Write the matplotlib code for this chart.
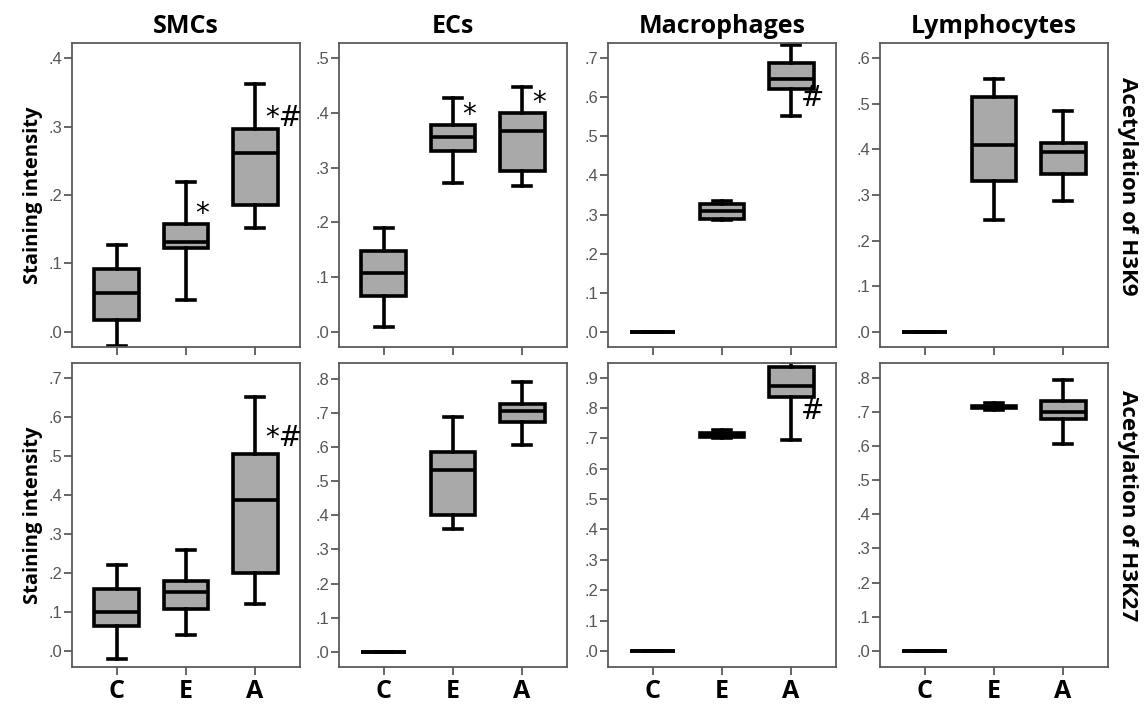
import numpy as np
import matplotlib
matplotlib.use("Agg")
import matplotlib.pyplot as plt
from matplotlib.ticker import FuncFormatter, MultipleLocator

cells = ["SMCs", "ECs", "Macrophages", "Lymphocytes"]
groups = ["C", "E", "A"]
rows = ["Acetylation of H3K9", "Acetylation of H3K27"]

# five-number summaries per group: low whisker, q1, median, q3, high whisker
h3k9_smc = [[-0.02, 0.018, 0.057, 0.092, 0.127],
            [0.047, 0.122, 0.132, 0.157, 0.219],
            [0.152, 0.185, 0.261, 0.296, 0.362]]
h3k9_ec = [[0.010, 0.066, 0.108, 0.148, 0.190],
           [0.272, 0.330, 0.355, 0.378, 0.427],
           [0.267, 0.293, 0.367, 0.400, 0.447]]
h3k9_mac = [[0.0, 0.0, 0.0, 0.0, 0.0],
            [0.285, 0.290, 0.310, 0.327, 0.335],
            [0.552, 0.620, 0.645, 0.686, 0.732]]
h3k9_lym = [[0.0, 0.0, 0.0, 0.0, 0.0],
            [0.245, 0.330, 0.410, 0.515, 0.555],
            [0.287, 0.347, 0.395, 0.415, 0.485]]

h3k27_smc = [[-0.02, 0.063, 0.100, 0.160, 0.220],
             [0.040, 0.108, 0.152, 0.180, 0.260],
             [0.120, 0.200, 0.388, 0.506, 0.650]]
h3k27_ec = [[0.0, 0.0, 0.0, 0.0, 0.0],
            [0.360, 0.400, 0.533, 0.587, 0.690],
            [0.605, 0.675, 0.705, 0.727, 0.790]]
h3k27_mac = [[0.0, 0.0, 0.0, 0.0, 0.0],
             [0.700, 0.703, 0.710, 0.718, 0.728],
             [0.695, 0.835, 0.873, 0.935, 0.950]]
h3k27_lym = [[0.0, 0.0, 0.0, 0.0, 0.0],
             [0.705, 0.712, 0.715, 0.718, 0.725],
             [0.607, 0.678, 0.700, 0.733, 0.792]]

data = [[h3k9_smc, h3k9_ec, h3k9_mac, h3k9_lym],
        [h3k27_smc, h3k27_ec, h3k27_mac, h3k27_lym]]

ylims = [[(-0.022, 0.422), (-0.027, 0.527), (-0.038, 0.738), (-0.033, 0.633)],
         [(-0.041, 0.738), (-0.045, 0.847), (-0.053, 0.948), (-0.047, 0.843)]]

# significance marks: (row, col, group index, text, y value)
marks = [(0, 0, 1, "*", 0.172), (0, 0, 2, "*#", 0.313),
         (0, 1, 1, "*", 0.395), (0, 1, 2, "*", 0.418),
         (0, 2, 2, "#", 0.598),
         (1, 0, 2, "*#", 0.545),
         (1, 2, 2, "#", 0.79)]

W, H = 1148, 704
fig = plt.figure(figsize=(W / 100, H / 100), dpi=100)

lefts = [72, 339, 608, 880]
tops = [43, 363]
pw, ph = 228, 304

fmt = FuncFormatter(lambda v, p: ("%.1f" % v).replace("0.", ".", 1) if v >= 0 else "")
gray = "#5a5a5a"
lw = 2.6

for r in range(2):
    for c in range(4):
        ax = fig.add_axes([lefts[c] / W, 1 - (tops[r] + ph) / H, pw / W, ph / H])
        stats = []
        for g, s in zip(groups, data[r][c]):
            stats.append({"label": g, "whislo": s[0], "q1": s[1], "med": s[2],
                          "q3": s[3], "whishi": s[4]})
        ax.bxp(stats, positions=[1, 2, 3], widths=0.65, capwidths=0.27,
               showfliers=False, patch_artist=True,
               boxprops=dict(facecolor="#a9a9a9", edgecolor="black", linewidth=lw),
               medianprops=dict(color="black", linewidth=lw),
               whiskerprops=dict(color="black", linewidth=lw),
               capprops=dict(color="black", linewidth=lw))
        ax.set_xlim(0.35, 3.65)
        ax.set_ylim(*ylims[r][c])
        ax.yaxis.set_major_locator(MultipleLocator(0.1))
        ax.yaxis.set_major_formatter(fmt)
        for sp in ax.spines.values():
            sp.set_color(gray)
            sp.set_linewidth(1.3)
        ax.tick_params(axis="both", direction="out", color=gray, length=6, width=1.3)
        ax.tick_params(axis="y", labelsize=12, labelcolor="#555555", pad=1)
        for lab in ax.get_yticklabels():
            lab.set_family("Liberation Sans")
        ax.set_xticks([1, 2, 3])
        if r == 1:
            ax.set_xticklabels(groups, fontsize=18, fontweight="bold",
                               family="Open Sans")
            ax.tick_params(axis="x", pad=3)
        else:
            ax.set_xticklabels([])
            ax.set_title(cells[c], fontsize=18, fontweight="bold",
                         family="Open Sans", pad=7)
        if c == 0:
            ax.set_ylabel("Staining intensity", fontsize=14.5, fontweight="bold",
                          family="Open Sans", labelpad=4)
        if c == 3:
            ax.text(1.04, 0.53, rows[r], transform=ax.transAxes, rotation=-90,
                    va="center", ha="left", fontsize=16, fontweight="bold",
                    family="Open Sans")

for r, c, gi, txt, yv in marks:
    ax = fig.axes[r * 4 + c]
    ax.text(gi + 1 + 0.14, yv, txt, fontsize=20, ha="left", va="center",
            family="DejaVu Sans")

fig.savefig("out.png", dpi=100)
